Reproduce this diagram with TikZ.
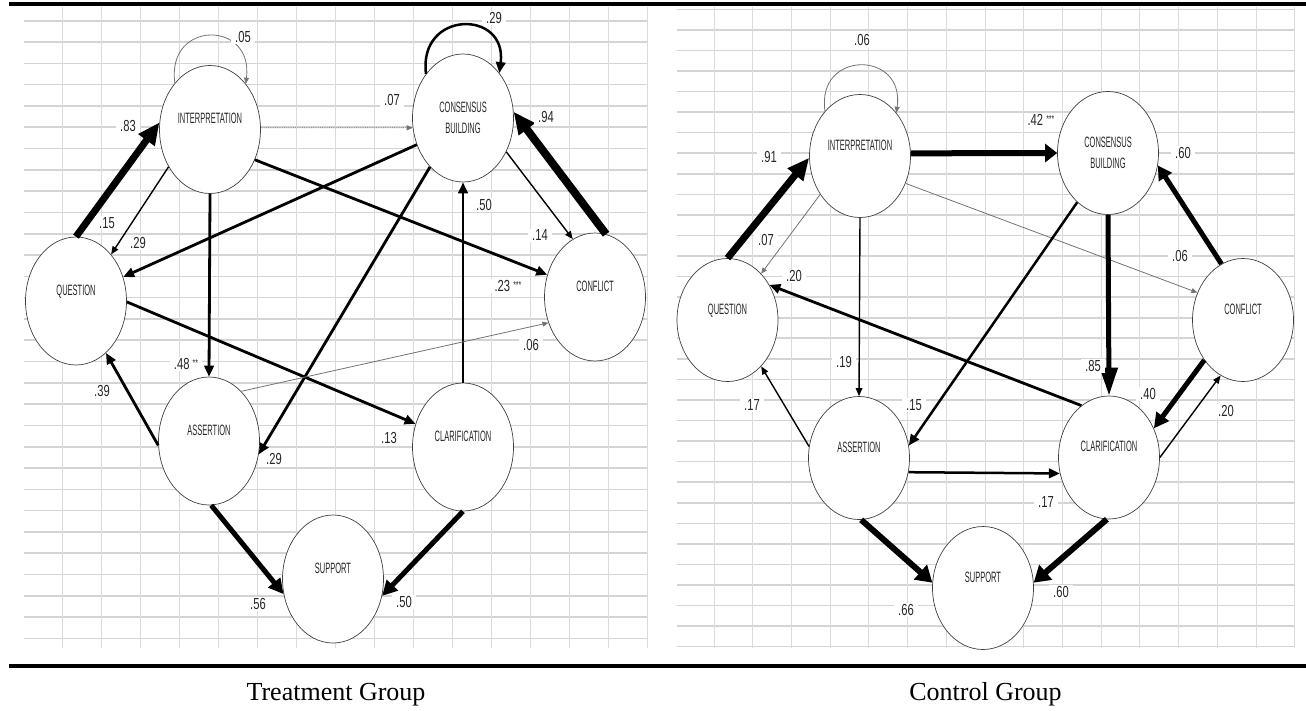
\documentclass[tikz,border=0pt]{standalone}
\usepackage{fontspec}
\setmainfont{Liberation Serif}
\newfontfamily\cnd[FakeStretch=0.5]{Liberation Sans}
\newfontfamily\cndnum[FakeStretch=0.7]{Liberation Sans}
\usetikzlibrary{arrows.meta,shapes.geometric}

\begin{document}
\begin{tikzpicture}[x=1pt,y=-1pt,
  stateL/.style={ellipse, draw=black!75, line width=0.7pt, fill=white,
    minimum width=101pt, minimum height=128pt, inner sep=0pt, align=center,
    text=black!85, font=\cnd\fontsize{15}{21.6}\selectfont},
  stateR/.style={stateL, minimum height=123pt},
  coef/.style={fill=white, inner xsep=4pt, inner ysep=1pt, text=black!85,
    font=\cndnum\fontsize{16}{16}\selectfont},
  faint/.style={draw=black!55, line width=0.8pt, -{Triangle[length=6pt,width=5pt]}},
  dotline/.style={faint, densely dotted},
  thinarr/.style={line width=1.4pt, -{Triangle[length=8pt,width=6.5pt]}},
  medarr/.style={line width=2.8pt, -{Triangle[length=11pt,width=9.5pt]}},
  heavyarr/.style={line width=5pt, -{Triangle[length=15pt,width=15pt]}},
  vheavyarr/.style={line width=7pt, -{Triangle[length=22pt,width=19pt]}},
  hgrid/.style={draw=black!17, line width=1.6pt},
  vgrid/.style={draw=black!14, line width=1pt},
  rule/.style={line width=4pt},
  caption/.style={font=\fontsize{26}{26}\selectfont, anchor=base}
]
\useasboundingbox (0,0) rectangle (1306,710);

% ---------- spreadsheet grids ----------
\foreach \k in {0,...,29} \draw[hgrid] (24,20.7+21.3*\k) -- (648,20.7+21.3*\k);
\foreach \k in {0,...,15} \draw[vgrid] (62.7+39*\k,7) -- (62.7+39*\k,648);
\foreach \k in {0,...,31} \draw[hgrid] (677,9.3+20.56*\k) -- (1295,9.3+20.56*\k);
\foreach \k in {0,...,15} \draw[vgrid] (714+38.72*\k,7) -- (714+38.72*\k,648);

% ---------- rules and captions ----------
\draw[rule] (9,4.3) -- (1306,4.3);
\draw[rule] (9,665.5) -- (1306,665.5);
\node[caption] (capT) at (336,700) {Treatment Group};
\node[caption] (capC) at (985.5,700) {Control Group};

% ---------- treatment group ----------
\node[stateL] (I1) at (210,129.5) {INTERPRETATION\\\mbox{}};
\node[stateL] (C1) at (463,118) {CONSENSUS\\BUILDING};
\node[stateL] (F1) at (595,297) {CONFLICT\\\mbox{}};
\node[stateL] (Q1) at (76,301) {QUESTION\\\mbox{}};
\node[stateL] (A1) at (209,441) {ASSERTION\\\mbox{}};
\node[stateL] (L1) at (463,447) {CLARIFICATION\\\mbox{}};
\node[stateL] (S1) at (333,579) {SUPPORT\\\mbox{}};

\draw[faint] (I1.127) .. controls +(-9,-63) and +(8,-64) .. (I1.52);
\draw[vheavyarr] (Q1.90) -- (I1.172);
\draw[thinarr] (I1.222) -- (Q1.53);
\draw[medarr] (C1.210) -- (Q1.27);
\draw[dotline] (I1.2) -- (C1.191);
\draw[medarr] (I1.-34) -- (F1.155);
\draw[medarr, line width=2.5pt] (C1.130) .. controls +(-8,-64) and +(8,-64) .. (C1.51);
\draw[vheavyarr, line width=8pt] (F1.80) -- (C1.7);
\draw[thinarr] (C1.-38) -- (F1.111);
\draw[medarr] (L1.90) -- (C1.270);
\draw[medarr] (C1.236) -- (A1.-15);
\draw[medarr] (I1.270) -- (A1.90);
\draw[medarr] (A1.185) -- (Q1.-60);
\draw[medarr] (Q1.-1) -- (L1.154);
\draw[faint] (A1.57) -- (F1.209);
\draw[heavyarr] (A1.272) -- (S1.197);
\draw[heavyarr] (L1.270) -- (S1.-19);

\node[coef] (t05) at (243,37) {.05};
\node[coef] (t83) at (128,126) {.83};
\node[coef] (t15) at (107,223) {.15};
\node[coef] (t29a) at (138,243) {.29};
\node[coef] (t07) at (392,100) {.07};
\node[coef] (t23) at (508,286) {.23 \raisebox{3pt}{\fontsize{10}{10}\selectfont ***}};
\node[coef] (t29b) at (494,18) {.29};
\node[coef] (t94) at (546,117) {.94};
\node[coef] (t14) at (540,235) {.14};
\node[coef] (t50a) at (484,205) {.50};
\node[coef] (t29c) at (274,459) {.29};
\node[coef] (t48) at (186,364) {.48 \raisebox{3pt}{\fontsize{10}{10}\selectfont **}};
\node[coef] (t39) at (102,391) {.39};
\node[coef] (t13) at (389,438) {.13};
\node[coef] (t06) at (531,345) {.06};
\node[coef] (t56) at (258,604) {.56};
\node[coef] (t50b) at (404,602) {.50};

% ---------- control group ----------
\node[stateR] (I2) at (860,156) {INTERPRETATION\\\mbox{}};
\node[stateR] (C2) at (1108,153) {CONSENSUS\\BUILDING};
\node[stateR] (F2) at (1243,320) {CONFLICT\\\mbox{}};
\node[stateR] (Q2) at (727.5,320) {QUESTION\\\mbox{}};
\node[stateR] (A2) at (859,458) {ASSERTION\\\mbox{}};
\node[stateR] (L2) at (1109,457.5) {CLARIFICATION\\\mbox{}};
\node[stateR] (S2) at (983,588) {SUPPORT\\\mbox{}};

\draw[faint] (I2.128) .. controls +(-9,-61.5) and +(9,-62.5) .. (I2.50);
\draw[vheavyarr] (Q2.90) -- (I2.182);
\draw[faint] (I2.224) -- (Q2.54);
\draw[medarr] (L2.118) -- (Q2.40);
\draw[vheavyarr, line width=6pt, -{Triangle[length=12pt,width=18pt]}] (I2.3) -- (C2.180);
\draw[faint] (I2.-31) -- (F2.149);
\draw[heavyarr, -{Triangle[length=14pt,width=15pt]}] (F2.111) -- (C2.-14);
\draw[heavyarr, -{Triangle[length=28pt,width=17pt]}] (C2.270) -- (L2.90);
\draw[medarr, line width=2.5pt] (C2.238) -- (A2.14);
\draw[thinarr] (I2.270) -- (A2.90);
\draw[thinarr] (A2.167) -- (Q2.-54);
\draw[medarr, line width=2.5pt] (A2.-16) -- (L2.198);
\draw[heavyarr] (F2.226) -- (L2.33);
\draw[thinarr] (L2.0) -- (F2.248);
\draw[vheavyarr, line width=6pt, -{Triangle[length=16pt,width=19pt]}] (A2.-88) -- (S2.174);
\draw[vheavyarr, line width=6pt, -{Triangle[length=16pt,width=19pt]}] (L2.268) -- (S2.6);

\node[coef] (c06a) at (862,40) {.06};
\node[coef] (c91) at (769,157) {.91};
\node[coef] (c07) at (766,240) {.07};
\node[coef] (c20a) at (794,276) {.20};
\node[coef] (c42) at (1041,120) {.42 \raisebox{3pt}{\fontsize{10}{10}\selectfont ***}};
\node[coef] (c06b) at (1180,256) {.06};
\node[coef] (c60a) at (1183,153) {.60};
\node[coef] (c85) at (1093,366) {.85};
\node[coef] (c15) at (914,405) {.15};
\node[coef] (c19) at (844,362) {.19};
\node[coef] (c17a) at (752,405) {.17};
\node[coef] (c17b) at (1046,502) {.17};
\node[coef] (c40) at (1148,394) {.40};
\node[coef] (c20b) at (1226,411) {.20};
\node[coef] (c66) at (906,610) {.66};
\node[coef] (c60b) at (1061,592) {.60};
\end{tikzpicture}
\end{document}
